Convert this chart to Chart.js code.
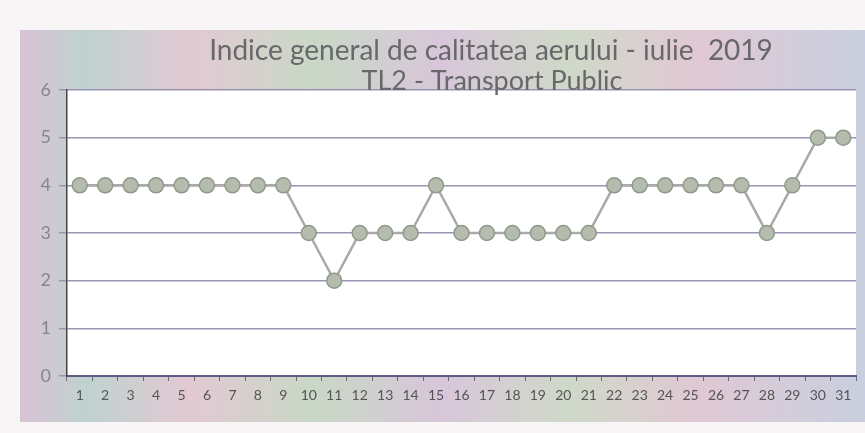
<!DOCTYPE html>
<html>
<head>
<meta charset="utf-8">
<script src="https://cdn.jsdelivr.net/npm/chart.js@4"></script>
<style>
  html, body { margin: 0; padding: 0; background: #f7f4f5; }
  #wrap { width: 865px; height: 433px; position: relative; }
</style>
</head>
<body>
<div id="wrap"><canvas id="myChart" width="865" height="433"></canvas></div>
<script>
const ctx = document.getElementById('myChart');

// days of July 2019
const zile = ['1','2','3','4','5','6','7','8','9','10','11','12','13','14','15','16',
  '17','18','19','20','21','22','23','24','25','26','27','28','29','30','31'];
// general air quality index, station TL2
const indice = [4,4,4,4,4,4,4,4,4,3,2,3,3,3,4,3,3,3,3,3,3,4,4,4,4,4,4,3,4,5,5];
const titlu = 'Indice general de calitatea aerului - iulie  2019';
const subtitlu = 'TL2 - Transport Public';

const fundal = {
  id: 'fundal',
  beforeDraw(chart) {
    const c = chart.ctx;
    const a = chart.chartArea;
    c.save();
    c.fillStyle = '#f8f5f6';
    c.fillRect(0, 0, chart.width, chart.height);
    const g = c.createLinearGradient(20, 0, 865, 0);
    g.addColorStop(0, '#d9c3d6');
    g.addColorStop(0.08, '#bfd2cf');
    g.addColorStop(0.2, '#e2c9d3');
    g.addColorStop(0.35, '#c9d8c6');
    g.addColorStop(0.5, '#d8c6da');
    g.addColorStop(0.65, '#cfd9c8');
    g.addColorStop(0.8, '#e0c8d4');
    g.addColorStop(1, '#c9cfdf');
    c.fillStyle = g;
    c.fillRect(20, 30, 845, 392);
    c.fillStyle = '#ffffff';
    c.fillRect(a.left, a.top, a.right - a.left, a.bottom - a.top);
    c.restore();
  },
  afterDraw(chart) {
    const c = chart.ctx;
    c.save();
    c.fillStyle = '#68686a';
    c.textAlign = 'center';
    c.textBaseline = 'middle';
    c.font = '28px Lato, "Open Sans", sans-serif';
    c.fillText(titlu, 491, 51);
    c.font = '27px Lato, "Open Sans", sans-serif';
    c.fillText(subtitlu, 492, 81);
    c.restore();
  }
};

new Chart(ctx, {
  type: 'line',
  data: {
    labels: zile,
    datasets: [{
      label: 'Indice',
      data: indice,
      borderColor: '#aaa9a6',
      borderWidth: 2.5,
      backgroundColor: '#b3bbab',
      pointBackgroundColor: '#b5bcad',
      pointBorderColor: '#8d9a8b',
      pointBorderWidth: 1.5,
      pointRadius: 7.5,
      tension: 0
    }]
  },
  options: {
    responsive: false,
    animation: false,
    layout: { padding: { top: 90, right: 5, left: 0, bottom: 0 } },
    plugins: {
      legend: { display: false },
      tooltip: { enabled: false }
    },
    scales: {
      x: {
        offset: true,
        grid: {
          display: true,
          offset: true,
          drawOnChartArea: false,
          drawTicks: true,
          tickLength: 5,
          color: '#6a6a7a'
        },
        border: { color: '#5e5a86', width: 2 },
        ticks: {
          color: '#555555',
          font: { size: 14, family: 'Lato, "Open Sans", sans-serif' },
          maxRotation: 0,
          autoSkip: false,
          padding: 6
        },
        afterFit(scale) { scale.height = 57; }
      },
      y: {
        min: 0,
        max: 6,
        ticks: {
          stepSize: 1,
          color: '#8a8688',
          font: { size: 18, family: 'Lato, "Open Sans", sans-serif' },
          padding: 8
        },
        grid: {
          color: '#9a94b4',
          lineWidth: 1.5,
          tickLength: 8
        },
        border: { color: '#444444', width: 1.5 },
        afterFit(scale) { scale.width = 67; }
      }
    }
  },
  plugins: [fundal]
});
</script>
</body>
</html>
